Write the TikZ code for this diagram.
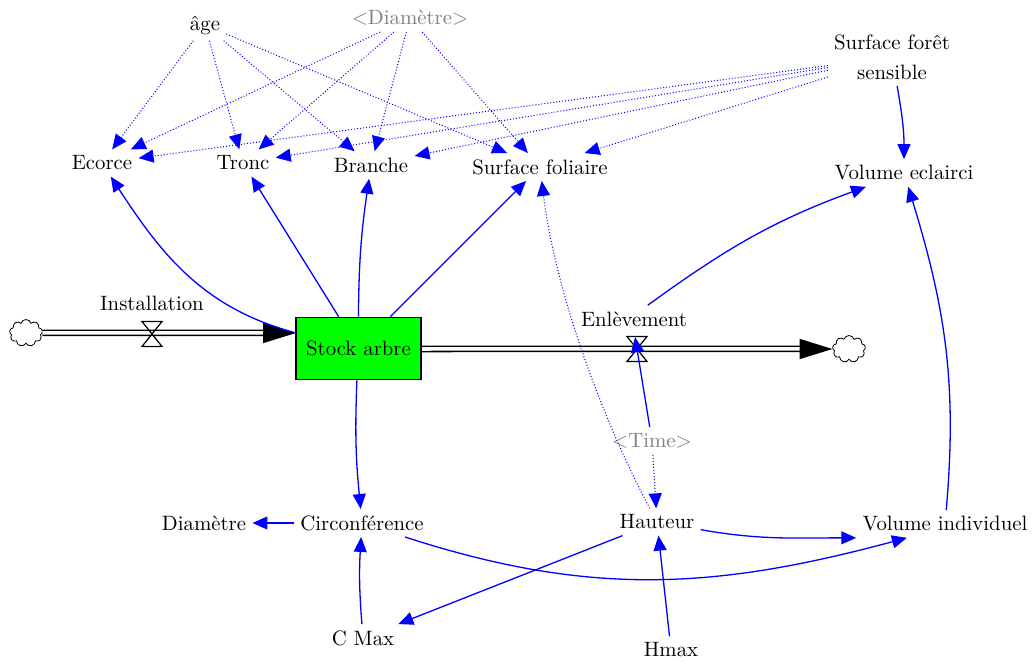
\documentclass[tikz,border=0pt]{standalone}
\usetikzlibrary{arrows.meta,shapes.symbols}
\newcommand{\vfont}{\rmfamily\fontsize{10.4}{15}\selectfont}
\tikzset{
  var/.style   ={font=\vfont, inner sep=3pt},
  shad/.style  ={font=\vfont, inner sep=3pt, text=black!50},
  stk/.style   ={draw, fill=green, line width=0.8pt, inner sep=0pt,
                 minimum width=62.5pt, minimum height=31pt, font=\vfont},
  lnk/.style   ={-{Triangle[length=7.5pt,width=6.5pt]}, blue, line width=0.65pt},
  dlnk/.style  ={-{Triangle[length=7.5pt,width=6.5pt]}, blue, line width=0.5pt,
                 densely dotted},
  src/.style   ={draw, cloud, cloud puffs=9, aspect=1.25, inner sep=0pt,
                 minimum width=16.5pt, minimum height=13.5pt, line width=0.4pt},
  valve/.pic   ={\draw[line width=0.6pt] (-10,-12.5) -- (10,-12.5) -- (-10,12.5)
                 -- (10,12.5) -- cycle;},
}

\begin{document}
\begin{tikzpicture}[x=0.5pt, y=-0.5pt,
  pipe/.style={double, double distance=1.75pt, line width=0.75pt,
    -{Triangle[length=16.5pt,width=10pt]}}]
\useasboundingbox (0,0) rectangle (1032,662);
\node[var]  (age)      at (205,25)  {âge};
\node[shad] (diamsh)   at (410,18)  {<Diamètre>};
\node[var, align=center] (sfs) at (892,57) {Surface forêt\\sensible};
\node[var]  (ecorce)   at (102,163) {Ecorce};
\node[var]  (tronc)    at (243,163) {Tronc};
\node[var]  (branche)  at (371,165) {Branche};
\node[var]  (sfol)     at (540,167) {Surface foliaire};
\node[var]  (volecl)   at (904,173) {Volume eclairci};
\node[src]  (cloudL)   at (26,333)  {};
\node[src]  (cloudR)   at (849,349) {};
\coordinate (inst) at (152,334);
\coordinate (enl)  at (637,349);
\draw[pipe] (cloudL) -- (cloudL -| 296,0);
\draw[pipe] (421,349) -- (cloudR);
\pic at (inst) {valve};
\pic at (enl)  {valve};
\node[stk]  (stock)    at (358.5,348.5) {Stock arbre};
\node[var]  (instlbl)  at (152,303) {Installation};
\node[var]  (enllbl)   at (634,319) {Enlèvement};
\node[shad] (time)     at (652,441) {<Time>};
\node[var]  (diametre) at (204,523) {Diamètre};
\node[var]  (circ)     at (362,523) {Circonférence};
\node[var]  (haut)     at (657,522) {Hauteur};
\node[var]  (volind)   at (945,524) {Volume individuel};
\node[var]  (cmax)     at (363,638) {C Max};
\node[var]  (hmax)     at (671,650) {Hmax};
\foreach \t in {ecorce,tronc,branche,sfol} {
  \draw[dlnk] (age) -- (\t);
  \draw[dlnk] (diamsh) -- (\t);
  \draw[dlnk] (sfs) -- (\t);
}
\draw[lnk] (sfs) to[out=-80, in=90] (volecl);
\draw[lnk] (stock.166) to[out=165, in=-57] (ecorce);
\draw[lnk] (stock) -- (tronc);
\draw[lnk] (stock) to[bend left=4] (branche);
\draw[lnk] (stock) -- (sfol);
\draw[dlnk] (haut) to[out=118, in=-83, looseness=0.8] (sfol);
\draw[lnk] (enllbl.45) to[out=36, in=200] (volecl.200);
\draw[lnk, shorten >=-6pt] (time) -- (enl);
\draw[dlnk] (time) -- (haut);
\draw[lnk] (stock) to[bend right=4] (circ);
\draw[lnk] (circ) -- (diametre);
\draw[lnk] (cmax) to[bend left=4] (circ);
\draw[lnk] (haut) -- (cmax);
\draw[lnk] (hmax) -- (haut);
\draw[lnk] (haut) to[out=-10, in=180] (volind.south west);
\draw[lnk] (circ) to[out=-18, in=195] (volind.200);
\draw[lnk] (volind) to[out=85, in=-73] (volecl);
\end{tikzpicture}
\end{document}
